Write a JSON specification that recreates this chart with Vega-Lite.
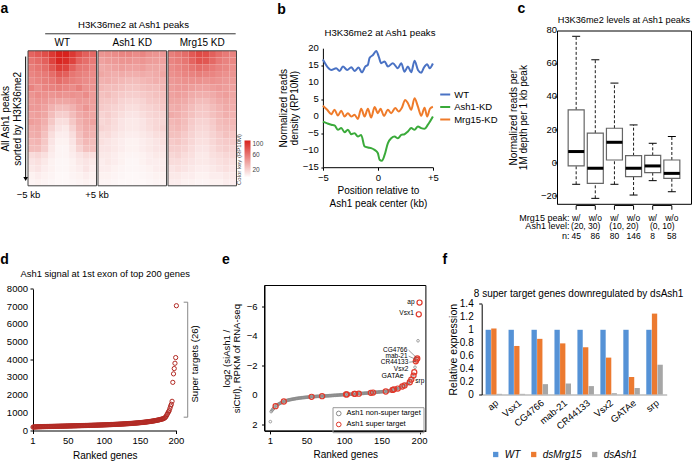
{
"$schema":"https://vega.github.io/schema/vega-lite/v6.json",
"background":"white",
"padding":{"left":0,"top":0.5,"right":0,"bottom":0},
"config":{
 "font":"Liberation Sans",
 "view":{"stroke":null},
 "axis":{"grid":false,"labelFontSize":9.5,"titleFontSize":10,"titleFontWeight":"normal","labelColor":"#000","titleColor":"#000","domainColor":"#000","tickColor":"#000","tickSize":3,"labelPadding":2,"titlePadding":4,"labelFlush":false},
 "legend":{"labelFontSize":9.5,"labelColor":"#000","titleColor":"#000"}
},
"datasets":{
"hw":[
{"c":1,"r":1,"v":70},{"c":2,"r":1,"v":75},{"c":3,"r":1,"v":80},{"c":4,"r":1,"v":90},{"c":5,"r":1,"v":100},{"c":6,"r":1,"v":100},{"c":7,"r":1,"v":90},{"c":8,"r":1,"v":80},{"c":9,"r":1,"v":72},{"c":10,"r":1,"v":68},
{"c":1,"r":2,"v":62},{"c":2,"r":2,"v":66},{"c":3,"r":2,"v":72},{"c":4,"r":2,"v":85},{"c":5,"r":2,"v":98},{"c":6,"r":2,"v":95},{"c":7,"r":2,"v":85},{"c":8,"r":2,"v":70},{"c":9,"r":2,"v":65},{"c":10,"r":2,"v":60},
{"c":1,"r":3,"v":58},{"c":2,"r":3,"v":62},{"c":3,"r":3,"v":66},{"c":4,"r":3,"v":76},{"c":5,"r":3,"v":88},{"c":6,"r":3,"v":85},{"c":7,"r":3,"v":72},{"c":8,"r":3,"v":62},{"c":9,"r":3,"v":60},{"c":10,"r":3,"v":55},
{"c":1,"r":4,"v":55},{"c":2,"r":4,"v":58},{"c":3,"r":4,"v":60},{"c":4,"r":4,"v":66},{"c":5,"r":4,"v":75},{"c":6,"r":4,"v":72},{"c":7,"r":4,"v":62},{"c":8,"r":4,"v":58},{"c":9,"r":4,"v":55},{"c":10,"r":4,"v":52},
{"c":1,"r":5,"v":52},{"c":2,"r":5,"v":55},{"c":3,"r":5,"v":58},{"c":4,"r":5,"v":60},{"c":5,"r":5,"v":66},{"c":6,"r":5,"v":62},{"c":7,"r":5,"v":58},{"c":8,"r":5,"v":55},{"c":9,"r":5,"v":52},{"c":10,"r":5,"v":50},
{"c":1,"r":6,"v":56},{"c":2,"r":6,"v":50},{"c":3,"r":6,"v":55},{"c":4,"r":6,"v":56},{"c":5,"r":6,"v":58},{"c":6,"r":6,"v":55},{"c":7,"r":6,"v":52},{"c":8,"r":6,"v":58},{"c":9,"r":6,"v":50},{"c":10,"r":6,"v":48},
{"c":1,"r":7,"v":48},{"c":2,"r":7,"v":52},{"c":3,"r":7,"v":50},{"c":4,"r":7,"v":48},{"c":5,"r":7,"v":50},{"c":6,"r":7,"v":48},{"c":7,"r":7,"v":50},{"c":8,"r":7,"v":48},{"c":9,"r":7,"v":52},{"c":10,"r":7,"v":45},
{"c":1,"r":8,"v":45},{"c":2,"r":8,"v":48},{"c":3,"r":8,"v":46},{"c":4,"r":8,"v":42},{"c":5,"r":8,"v":40},{"c":6,"r":8,"v":40},{"c":7,"r":8,"v":42},{"c":8,"r":8,"v":46},{"c":9,"r":8,"v":45},{"c":10,"r":8,"v":44},
{"c":1,"r":9,"v":46},{"c":2,"r":9,"v":46},{"c":3,"r":9,"v":42},{"c":4,"r":9,"v":35},{"c":5,"r":9,"v":30},{"c":6,"r":9,"v":30},{"c":7,"r":9,"v":35},{"c":8,"r":9,"v":42},{"c":9,"r":9,"v":48},{"c":10,"r":9,"v":42},
{"c":1,"r":10,"v":42},{"c":2,"r":10,"v":44},{"c":3,"r":10,"v":40},{"c":4,"r":10,"v":30},{"c":5,"r":10,"v":22},{"c":6,"r":10,"v":22},{"c":7,"r":10,"v":30},{"c":8,"r":10,"v":38},{"c":9,"r":10,"v":42},{"c":10,"r":10,"v":40},
{"c":1,"r":11,"v":44},{"c":2,"r":11,"v":42},{"c":3,"r":11,"v":36},{"c":4,"r":11,"v":25},{"c":5,"r":11,"v":15},{"c":6,"r":11,"v":15},{"c":7,"r":11,"v":25},{"c":8,"r":11,"v":35},{"c":9,"r":11,"v":40},{"c":10,"r":11,"v":42},
{"c":1,"r":12,"v":38},{"c":2,"r":12,"v":40},{"c":3,"r":12,"v":32},{"c":4,"r":12,"v":20},{"c":5,"r":12,"v":12},{"c":6,"r":12,"v":10},{"c":7,"r":12,"v":20},{"c":8,"r":12,"v":32},{"c":9,"r":12,"v":38},{"c":10,"r":12,"v":36},
{"c":1,"r":13,"v":36},{"c":2,"r":13,"v":38},{"c":3,"r":13,"v":28},{"c":4,"r":13,"v":15},{"c":5,"r":13,"v":8},{"c":6,"r":13,"v":8},{"c":7,"r":13,"v":15},{"c":8,"r":13,"v":28},{"c":9,"r":13,"v":36},{"c":10,"r":13,"v":34},
{"c":1,"r":14,"v":32},{"c":2,"r":14,"v":34},{"c":3,"r":14,"v":25},{"c":4,"r":14,"v":12},{"c":5,"r":14,"v":6},{"c":6,"r":14,"v":6},{"c":7,"r":14,"v":12},{"c":8,"r":14,"v":25},{"c":9,"r":14,"v":32},{"c":10,"r":14,"v":30},
{"c":1,"r":15,"v":30},{"c":2,"r":15,"v":30},{"c":3,"r":15,"v":22},{"c":4,"r":15,"v":10},{"c":5,"r":15,"v":5},{"c":6,"r":15,"v":5},{"c":7,"r":15,"v":10},{"c":8,"r":15,"v":20},{"c":9,"r":15,"v":28},{"c":10,"r":15,"v":28},
{"c":1,"r":16,"v":16},{"c":2,"r":16,"v":18},{"c":3,"r":16,"v":14},{"c":4,"r":16,"v":8},{"c":5,"r":16,"v":5},{"c":6,"r":16,"v":5},{"c":7,"r":16,"v":8},{"c":8,"r":16,"v":12},{"c":9,"r":16,"v":16},{"c":10,"r":16,"v":14},
{"c":1,"r":17,"v":12},{"c":2,"r":17,"v":14},{"c":3,"r":17,"v":10},{"c":4,"r":17,"v":6},{"c":5,"r":17,"v":4},{"c":6,"r":17,"v":4},{"c":7,"r":17,"v":6},{"c":8,"r":17,"v":10},{"c":9,"r":17,"v":12},{"c":10,"r":17,"v":10},
{"c":1,"r":18,"v":10},{"c":2,"r":18,"v":12},{"c":3,"r":18,"v":8},{"c":4,"r":18,"v":6},{"c":5,"r":18,"v":4},{"c":6,"r":18,"v":4},{"c":7,"r":18,"v":6},{"c":8,"r":18,"v":8},{"c":9,"r":18,"v":12},{"c":10,"r":18,"v":8},
{"c":1,"r":19,"v":6},{"c":2,"r":19,"v":8},{"c":3,"r":19,"v":6},{"c":4,"r":19,"v":5},{"c":5,"r":19,"v":3},{"c":6,"r":19,"v":3},{"c":7,"r":19,"v":5},{"c":8,"r":19,"v":6},{"c":9,"r":19,"v":8},{"c":10,"r":19,"v":6},
{"c":1,"r":20,"v":5},{"c":2,"r":20,"v":6},{"c":3,"r":20,"v":5},{"c":4,"r":20,"v":4},{"c":5,"r":20,"v":3},{"c":6,"r":20,"v":3},{"c":7,"r":20,"v":4},{"c":8,"r":20,"v":5},{"c":9,"r":20,"v":6},{"c":10,"r":20,"v":5}
],
"ha":[
{"c":1,"r":1,"v":48},{"c":2,"r":1,"v":50},{"c":3,"r":1,"v":52},{"c":4,"r":1,"v":55},{"c":5,"r":1,"v":55},{"c":6,"r":1,"v":52},{"c":7,"r":1,"v":55},{"c":8,"r":1,"v":50},{"c":9,"r":1,"v":48},{"c":10,"r":1,"v":46},
{"c":1,"r":2,"v":42},{"c":2,"r":2,"v":45},{"c":3,"r":2,"v":46},{"c":4,"r":2,"v":48},{"c":5,"r":2,"v":48},{"c":6,"r":2,"v":46},{"c":7,"r":2,"v":48},{"c":8,"r":2,"v":45},{"c":9,"r":2,"v":44},{"c":10,"r":2,"v":42},
{"c":1,"r":3,"v":38},{"c":2,"r":3,"v":40},{"c":3,"r":3,"v":42},{"c":4,"r":3,"v":44},{"c":5,"r":3,"v":42},{"c":6,"r":3,"v":42},{"c":7,"r":3,"v":44},{"c":8,"r":3,"v":40},{"c":9,"r":3,"v":40},{"c":10,"r":3,"v":38},
{"c":1,"r":4,"v":40},{"c":2,"r":4,"v":38},{"c":3,"r":4,"v":36},{"c":4,"r":4,"v":38},{"c":5,"r":4,"v":36},{"c":6,"r":4,"v":36},{"c":7,"r":4,"v":38},{"c":8,"r":4,"v":36},{"c":9,"r":4,"v":38},{"c":10,"r":4,"v":40},
{"c":1,"r":5,"v":35},{"c":2,"r":5,"v":36},{"c":3,"r":5,"v":34},{"c":4,"r":5,"v":32},{"c":5,"r":5,"v":30},{"c":6,"r":5,"v":30},{"c":7,"r":5,"v":32},{"c":8,"r":5,"v":34},{"c":9,"r":5,"v":36},{"c":10,"r":5,"v":34},
{"c":1,"r":6,"v":32},{"c":2,"r":6,"v":30},{"c":3,"r":6,"v":30},{"c":4,"r":6,"v":28},{"c":5,"r":6,"v":26},{"c":6,"r":6,"v":26},{"c":7,"r":6,"v":28},{"c":8,"r":6,"v":30},{"c":9,"r":6,"v":30},{"c":10,"r":6,"v":32},
{"c":1,"r":7,"v":28},{"c":2,"r":7,"v":30},{"c":3,"r":7,"v":26},{"c":4,"r":7,"v":24},{"c":5,"r":7,"v":22},{"c":6,"r":7,"v":22},{"c":7,"r":7,"v":24},{"c":8,"r":7,"v":26},{"c":9,"r":7,"v":28},{"c":10,"r":7,"v":28},
{"c":1,"r":8,"v":26},{"c":2,"r":8,"v":25},{"c":3,"r":8,"v":24},{"c":4,"r":8,"v":20},{"c":5,"r":8,"v":18},{"c":6,"r":8,"v":18},{"c":7,"r":8,"v":20},{"c":8,"r":8,"v":24},{"c":9,"r":8,"v":25},{"c":10,"r":8,"v":26},
{"c":1,"r":9,"v":24},{"c":2,"r":9,"v":22},{"c":3,"r":9,"v":20},{"c":4,"r":9,"v":18},{"c":5,"r":9,"v":15},{"c":6,"r":9,"v":15},{"c":7,"r":9,"v":18},{"c":8,"r":9,"v":20},{"c":9,"r":9,"v":22},{"c":10,"r":9,"v":24},
{"c":1,"r":10,"v":20},{"c":2,"r":10,"v":22},{"c":3,"r":10,"v":18},{"c":4,"r":10,"v":15},{"c":5,"r":10,"v":12},{"c":6,"r":10,"v":12},{"c":7,"r":10,"v":15},{"c":8,"r":10,"v":18},{"c":9,"r":10,"v":20},{"c":10,"r":10,"v":20},
{"c":1,"r":11,"v":18},{"c":2,"r":11,"v":20},{"c":3,"r":11,"v":16},{"c":4,"r":11,"v":12},{"c":5,"r":11,"v":10},{"c":6,"r":11,"v":10},{"c":7,"r":11,"v":12},{"c":8,"r":11,"v":16},{"c":9,"r":11,"v":18},{"c":10,"r":11,"v":18},
{"c":1,"r":12,"v":20},{"c":2,"r":12,"v":18},{"c":3,"r":12,"v":15},{"c":4,"r":12,"v":12},{"c":5,"r":12,"v":10},{"c":6,"r":12,"v":10},{"c":7,"r":12,"v":12},{"c":8,"r":12,"v":15},{"c":9,"r":12,"v":18},{"c":10,"r":12,"v":20},
{"c":1,"r":13,"v":15},{"c":2,"r":13,"v":16},{"c":3,"r":13,"v":12},{"c":4,"r":13,"v":10},{"c":5,"r":13,"v":8},{"c":6,"r":13,"v":8},{"c":7,"r":13,"v":10},{"c":8,"r":13,"v":12},{"c":9,"r":13,"v":15},{"c":10,"r":13,"v":16},
{"c":1,"r":14,"v":14},{"c":2,"r":14,"v":12},{"c":3,"r":14,"v":10},{"c":4,"r":14,"v":8},{"c":5,"r":14,"v":6},{"c":6,"r":14,"v":6},{"c":7,"r":14,"v":8},{"c":8,"r":14,"v":10},{"c":9,"r":14,"v":12},{"c":10,"r":14,"v":14},
{"c":1,"r":15,"v":12},{"c":2,"r":15,"v":12},{"c":3,"r":15,"v":10},{"c":4,"r":15,"v":8},{"c":5,"r":15,"v":6},{"c":6,"r":15,"v":6},{"c":7,"r":15,"v":8},{"c":8,"r":15,"v":10},{"c":9,"r":15,"v":12},{"c":10,"r":15,"v":12},
{"c":1,"r":16,"v":10},{"c":2,"r":16,"v":10},{"c":3,"r":16,"v":8},{"c":4,"r":16,"v":6},{"c":5,"r":16,"v":5},{"c":6,"r":16,"v":5},{"c":7,"r":16,"v":6},{"c":8,"r":16,"v":8},{"c":9,"r":16,"v":10},{"c":10,"r":16,"v":10},
{"c":1,"r":17,"v":8},{"c":2,"r":17,"v":10},{"c":3,"r":17,"v":8},{"c":4,"r":17,"v":6},{"c":5,"r":17,"v":4},{"c":6,"r":17,"v":4},{"c":7,"r":17,"v":6},{"c":8,"r":17,"v":8},{"c":9,"r":17,"v":8},{"c":10,"r":17,"v":8},
{"c":1,"r":18,"v":8},{"c":2,"r":18,"v":8},{"c":3,"r":18,"v":6},{"c":4,"r":18,"v":5},{"c":5,"r":18,"v":4},{"c":6,"r":18,"v":4},{"c":7,"r":18,"v":5},{"c":8,"r":18,"v":6},{"c":9,"r":18,"v":8},{"c":10,"r":18,"v":8},
{"c":1,"r":19,"v":6},{"c":2,"r":19,"v":6},{"c":3,"r":19,"v":5},{"c":4,"r":19,"v":4},{"c":5,"r":19,"v":3},{"c":6,"r":19,"v":3},{"c":7,"r":19,"v":4},{"c":8,"r":19,"v":5},{"c":9,"r":19,"v":6},{"c":10,"r":19,"v":6},
{"c":1,"r":20,"v":5},{"c":2,"r":20,"v":5},{"c":3,"r":20,"v":4},{"c":4,"r":20,"v":3},{"c":5,"r":20,"v":3},{"c":6,"r":20,"v":3},{"c":7,"r":20,"v":3},{"c":8,"r":20,"v":4},{"c":9,"r":20,"v":5},{"c":10,"r":20,"v":5}
],
"hm":[
{"c":1,"r":1,"v":58},{"c":2,"r":1,"v":62},{"c":3,"r":1,"v":66},{"c":4,"r":1,"v":75},{"c":5,"r":1,"v":82},{"c":6,"r":1,"v":80},{"c":7,"r":1,"v":72},{"c":8,"r":1,"v":65},{"c":9,"r":1,"v":60},{"c":10,"r":1,"v":56},
{"c":1,"r":2,"v":55},{"c":2,"r":2,"v":58},{"c":3,"r":2,"v":62},{"c":4,"r":2,"v":70},{"c":5,"r":2,"v":78},{"c":6,"r":2,"v":76},{"c":7,"r":2,"v":68},{"c":8,"r":2,"v":60},{"c":9,"r":2,"v":56},{"c":10,"r":2,"v":54},
{"c":1,"r":3,"v":52},{"c":2,"r":3,"v":55},{"c":3,"r":3,"v":58},{"c":4,"r":3,"v":62},{"c":5,"r":3,"v":66},{"c":6,"r":3,"v":64},{"c":7,"r":3,"v":60},{"c":8,"r":3,"v":56},{"c":9,"r":3,"v":54},{"c":10,"r":3,"v":50},
{"c":1,"r":4,"v":50},{"c":2,"r":4,"v":52},{"c":3,"r":4,"v":55},{"c":4,"r":4,"v":56},{"c":5,"r":4,"v":58},{"c":6,"r":4,"v":56},{"c":7,"r":4,"v":55},{"c":8,"r":4,"v":52},{"c":9,"r":4,"v":50},{"c":10,"r":4,"v":48},
{"c":1,"r":5,"v":46},{"c":2,"r":5,"v":48},{"c":3,"r":5,"v":50},{"c":4,"r":5,"v":50},{"c":5,"r":5,"v":50},{"c":6,"r":5,"v":48},{"c":7,"r":5,"v":50},{"c":8,"r":5,"v":48},{"c":9,"r":5,"v":46},{"c":10,"r":5,"v":45},
{"c":1,"r":6,"v":44},{"c":2,"r":6,"v":46},{"c":3,"r":6,"v":46},{"c":4,"r":6,"v":44},{"c":5,"r":6,"v":42},{"c":6,"r":6,"v":42},{"c":7,"r":6,"v":44},{"c":8,"r":6,"v":46},{"c":9,"r":6,"v":44},{"c":10,"r":6,"v":42},
{"c":1,"r":7,"v":42},{"c":2,"r":7,"v":44},{"c":3,"r":7,"v":42},{"c":4,"r":7,"v":38},{"c":5,"r":7,"v":36},{"c":6,"r":7,"v":36},{"c":7,"r":7,"v":38},{"c":8,"r":7,"v":42},{"c":9,"r":7,"v":44},{"c":10,"r":7,"v":40},
{"c":1,"r":8,"v":40},{"c":2,"r":8,"v":40},{"c":3,"r":8,"v":38},{"c":4,"r":8,"v":34},{"c":5,"r":8,"v":30},{"c":6,"r":8,"v":30},{"c":7,"r":8,"v":34},{"c":8,"r":8,"v":38},{"c":9,"r":8,"v":40},{"c":10,"r":8,"v":38},
{"c":1,"r":9,"v":36},{"c":2,"r":9,"v":38},{"c":3,"r":9,"v":34},{"c":4,"r":9,"v":30},{"c":5,"r":9,"v":26},{"c":6,"r":9,"v":26},{"c":7,"r":9,"v":30},{"c":8,"r":9,"v":34},{"c":9,"r":9,"v":38},{"c":10,"r":9,"v":36},
{"c":1,"r":10,"v":38},{"c":2,"r":10,"v":36},{"c":3,"r":10,"v":32},{"c":4,"r":10,"v":28},{"c":5,"r":10,"v":24},{"c":6,"r":10,"v":24},{"c":7,"r":10,"v":28},{"c":8,"r":10,"v":32},{"c":9,"r":10,"v":36},{"c":10,"r":10,"v":34},
{"c":1,"r":11,"v":32},{"c":2,"r":11,"v":34},{"c":3,"r":11,"v":30},{"c":4,"r":11,"v":24},{"c":5,"r":11,"v":20},{"c":6,"r":11,"v":20},{"c":7,"r":11,"v":24},{"c":8,"r":11,"v":30},{"c":9,"r":11,"v":32},{"c":10,"r":11,"v":32},
{"c":1,"r":12,"v":30},{"c":2,"r":12,"v":32},{"c":3,"r":12,"v":28},{"c":4,"r":12,"v":22},{"c":5,"r":12,"v":18},{"c":6,"r":12,"v":18},{"c":7,"r":12,"v":22},{"c":8,"r":12,"v":28},{"c":9,"r":12,"v":30},{"c":10,"r":12,"v":30},
{"c":1,"r":13,"v":28},{"c":2,"r":13,"v":28},{"c":3,"r":13,"v":24},{"c":4,"r":13,"v":20},{"c":5,"r":13,"v":16},{"c":6,"r":13,"v":16},{"c":7,"r":13,"v":20},{"c":8,"r":13,"v":24},{"c":9,"r":13,"v":28},{"c":10,"r":13,"v":26},
{"c":1,"r":14,"v":24},{"c":2,"r":14,"v":26},{"c":3,"r":14,"v":22},{"c":4,"r":14,"v":18},{"c":5,"r":14,"v":14},{"c":6,"r":14,"v":14},{"c":7,"r":14,"v":18},{"c":8,"r":14,"v":22},{"c":9,"r":14,"v":24},{"c":10,"r":14,"v":24},
{"c":1,"r":15,"v":22},{"c":2,"r":15,"v":22},{"c":3,"r":15,"v":20},{"c":4,"r":15,"v":16},{"c":5,"r":15,"v":12},{"c":6,"r":15,"v":12},{"c":7,"r":15,"v":16},{"c":8,"r":15,"v":20},{"c":9,"r":15,"v":22},{"c":10,"r":15,"v":20},
{"c":1,"r":16,"v":18},{"c":2,"r":16,"v":20},{"c":3,"r":16,"v":16},{"c":4,"r":16,"v":14},{"c":5,"r":16,"v":10},{"c":6,"r":16,"v":10},{"c":7,"r":16,"v":14},{"c":8,"r":16,"v":16},{"c":9,"r":16,"v":18},{"c":10,"r":16,"v":18},
{"c":1,"r":17,"v":16},{"c":2,"r":17,"v":16},{"c":3,"r":17,"v":14},{"c":4,"r":17,"v":12},{"c":5,"r":17,"v":10},{"c":6,"r":17,"v":10},{"c":7,"r":17,"v":12},{"c":8,"r":17,"v":14},{"c":9,"r":17,"v":16},{"c":10,"r":17,"v":14},
{"c":1,"r":18,"v":12},{"c":2,"r":18,"v":14},{"c":3,"r":18,"v":12},{"c":4,"r":18,"v":10},{"c":5,"r":18,"v":8},{"c":6,"r":18,"v":8},{"c":7,"r":18,"v":10},{"c":8,"r":18,"v":12},{"c":9,"r":18,"v":14},{"c":10,"r":18,"v":12},
{"c":1,"r":19,"v":10},{"c":2,"r":19,"v":10},{"c":3,"r":19,"v":8},{"c":4,"r":19,"v":8},{"c":5,"r":19,"v":6},{"c":6,"r":19,"v":6},{"c":7,"r":19,"v":8},{"c":8,"r":19,"v":8},{"c":9,"r":19,"v":10},{"c":10,"r":19,"v":10},
{"c":1,"r":20,"v":8},{"c":2,"r":20,"v":8},{"c":3,"r":20,"v":6},{"c":4,"r":20,"v":6},{"c":5,"r":20,"v":5},{"c":6,"r":20,"v":5},{"c":7,"r":20,"v":6},{"c":8,"r":20,"v":6},{"c":9,"r":20,"v":8},{"c":10,"r":20,"v":8}
],
"bl":[
{"g":"WT","x":-5,"y":16.7},{"g":"WT","x":-4.48,"y":14.1},{"g":"WT","x":-4.24,"y":13.6},{"g":"WT","x":-3.79,"y":14.1},{"g":"WT","x":-3.48,"y":13.3},{"g":"WT","x":-3.18,"y":14.6},{"g":"WT","x":-2.79,"y":13.6},{"g":"WT","x":-2.42,"y":14.4},{"g":"WT","x":-2.12,"y":13.3},{"g":"WT","x":-1.76,"y":14.3},{"g":"WT","x":-1.45,"y":12.9},{"g":"WT","x":-1.15,"y":14.6},{"g":"WT","x":-0.91,"y":15.1},{"g":"WT","x":-0.76,"y":17.1},{"g":"WT","x":-0.45,"y":18.0},{"g":"WT","x":-0.15,"y":19.2},{"g":"WT","x":0.06,"y":17.7},{"g":"WT","x":0.3,"y":15.6},{"g":"WT","x":0.61,"y":16.1},{"g":"WT","x":0.91,"y":14.6},{"g":"WT","x":1.36,"y":15.6},{"g":"WT","x":1.82,"y":14.1},{"g":"WT","x":2.12,"y":15.6},{"g":"WT","x":2.42,"y":13.1},{"g":"WT","x":2.73,"y":14.6},{"g":"WT","x":3.03,"y":12.9},{"g":"WT","x":3.33,"y":16.3},{"g":"WT","x":3.64,"y":13.6},{"g":"WT","x":3.94,"y":12.8},{"g":"WT","x":4.18,"y":14.3},{"g":"WT","x":4.48,"y":15.3},{"g":"WT","x":4.7,"y":14.1},{"g":"WT","x":5,"y":15.5},
{"g":"Mrg15-KD","x":-5,"y":3.1},{"g":"Mrg15-KD","x":-4.61,"y":1.9},{"g":"Mrg15-KD","x":-4.24,"y":0.6},{"g":"Mrg15-KD","x":-3.94,"y":1.9},{"g":"Mrg15-KD","x":-3.64,"y":0.2},{"g":"Mrg15-KD","x":-3.33,"y":1.6},{"g":"Mrg15-KD","x":-3.03,"y":-0.1},{"g":"Mrg15-KD","x":-2.73,"y":0.9},{"g":"Mrg15-KD","x":-2.42,"y":-0.1},{"g":"Mrg15-KD","x":-2.12,"y":0.4},{"g":"Mrg15-KD","x":-1.82,"y":-0.8},{"g":"Mrg15-KD","x":-1.52,"y":2.2},{"g":"Mrg15-KD","x":-1.21,"y":-0.1},{"g":"Mrg15-KD","x":-0.91,"y":2.2},{"g":"Mrg15-KD","x":-0.61,"y":-0.4},{"g":"Mrg15-KD","x":-0.3,"y":2.7},{"g":"Mrg15-KD","x":0,"y":0.9},{"g":"Mrg15-KD","x":0.24,"y":2.2},{"g":"Mrg15-KD","x":0.55,"y":0.1},{"g":"Mrg15-KD","x":0.91,"y":1.9},{"g":"Mrg15-KD","x":1.21,"y":0.9},{"g":"Mrg15-KD","x":1.58,"y":2.4},{"g":"Mrg15-KD","x":1.88,"y":1.4},{"g":"Mrg15-KD","x":2.18,"y":2.5},{"g":"Mrg15-KD","x":2.48,"y":4.8},{"g":"Mrg15-KD","x":2.73,"y":3.8},{"g":"Mrg15-KD","x":3.03,"y":1.9},{"g":"Mrg15-KD","x":3.33,"y":5.3},{"g":"Mrg15-KD","x":3.64,"y":2.8},{"g":"Mrg15-KD","x":3.94,"y":0.1},{"g":"Mrg15-KD","x":4.24,"y":2.5},{"g":"Mrg15-KD","x":4.48,"y":-0.1},{"g":"Mrg15-KD","x":4.73,"y":2.2},{"g":"Mrg15-KD","x":5,"y":2.8},
{"g":"Ash1-KD","x":-5,"y":-1.6},{"g":"Ash1-KD","x":-4.61,"y":-2.1},{"g":"Ash1-KD","x":-4.24,"y":-2.5},{"g":"Ash1-KD","x":-3.94,"y":-2.7},{"g":"Ash1-KD","x":-3.64,"y":-4.0},{"g":"Ash1-KD","x":-3.33,"y":-3.5},{"g":"Ash1-KD","x":-3.03,"y":-4.7},{"g":"Ash1-KD","x":-2.73,"y":-4.0},{"g":"Ash1-KD","x":-2.42,"y":-5.3},{"g":"Ash1-KD","x":-2.12,"y":-5.0},{"g":"Ash1-KD","x":-1.82,"y":-6.0},{"g":"Ash1-KD","x":-1.52,"y":-5.5},{"g":"Ash1-KD","x":-1.21,"y":-8.9},{"g":"Ash1-KD","x":-0.91,"y":-9.2},{"g":"Ash1-KD","x":-0.61,"y":-9.4},{"g":"Ash1-KD","x":-0.3,"y":-9.9},{"g":"Ash1-KD","x":0,"y":-10.9},{"g":"Ash1-KD","x":0.15,"y":-12.8},{"g":"Ash1-KD","x":0.36,"y":-13.1},{"g":"Ash1-KD","x":0.61,"y":-11.4},{"g":"Ash1-KD","x":0.91,"y":-7.9},{"g":"Ash1-KD","x":1.21,"y":-6.5},{"g":"Ash1-KD","x":1.52,"y":-6.0},{"g":"Ash1-KD","x":1.82,"y":-6.5},{"g":"Ash1-KD","x":2.12,"y":-5.5},{"g":"Ash1-KD","x":2.42,"y":-5.3},{"g":"Ash1-KD","x":2.73,"y":-4.5},{"g":"Ash1-KD","x":3.03,"y":-3.5},{"g":"Ash1-KD","x":3.33,"y":-4.0},{"g":"Ash1-KD","x":3.64,"y":-3.0},{"g":"Ash1-KD","x":3.94,"y":-3.5},{"g":"Ash1-KD","x":4.24,"y":-3.7},{"g":"Ash1-KD","x":4.55,"y":-2.5},{"g":"Ash1-KD","x":5,"y":-0.1}
],
"byl":[{"y":-15,"l":"−15"},{"y":-10,"l":"−10"},{"y":-5,"l":"−5"},{"y":0,"l":"0"},{"y":5,"l":"5"},{"y":10,"l":"10"},{"y":15,"l":"15"},{"y":20,"l":"20"}],
"cyl":[{"y":-20,"l":"−20"},{"y":0,"l":"0"},{"y":20,"l":"20"},{"y":40,"l":"40"},{"y":60,"l":"60"},{"y":80,"l":"80"}],
"dyl":[{"y":0,"l":"0"},{"y":1000,"l":"1000"},{"y":2000,"l":"2000"},{"y":3000,"l":"3000"},{"y":4000,"l":"4000"},{"y":5000,"l":"5000"},{"y":6000,"l":"6000"},{"y":7000,"l":"7000"},{"y":8000,"l":"8000"}],
"rxl":[{"x":1,"l":"1"},{"x":50,"l":"50"},{"x":100,"l":"100"},{"x":150,"l":"150"},{"x":200,"l":"200"}],
"eyl":[{"y":-6,"l":"−6"},{"y":-4,"l":"−4"},{"y":-2,"l":"−2"},{"y":0,"l":"0"},{"y":2,"l":"2"}],
"fyl":[{"y":0,"l":"0"},{"y":0.2,"l":"0.2"},{"y":0.4,"l":"0.4"},{"y":0.6,"l":"0.6"},{"y":0.8,"l":"0.8"},{"y":1,"l":"1"},{"y":1.2,"l":"1.2"},{"y":1.4,"l":"1.4"}],
"cb":[
{"p":1,"lo":-13.1,"q1":-2,"md":6.7,"q3":31.9,"hi":76.4,"m":"w/","n":"45"},
{"p":2,"lo":-21.6,"q1":-12.5,"md":-3.4,"q3":17.8,"hi":62.2,"m":"w/o","n":"86"},
{"p":3,"lo":-13.1,"q1":1.6,"md":12.3,"q3":20.8,"hi":48.1,"m":"w/","n":"80"},
{"p":4,"lo":-19.6,"q1":-8.5,"md":-3.4,"q3":4.2,"hi":22.8,"m":"w/o","n":"146"},
{"p":5,"lo":-10.9,"q1":-6.1,"md":-2,"q3":4.4,"hi":11.7,"m":"w/","n":"8"},
{"p":6,"lo":-17.6,"q1":-9.5,"md":-6.5,"q3":1.6,"hi":15.8,"m":"w/o","n":"58"}
],
"cl":[{"p":1.5,"l":"(20, 30)"},{"p":3.5,"l":"(10, 20)"},{"p":5.5,"l":"(0, 10)"}],
"cp":[{"a":1,"b":2},{"a":3,"b":4},{"a":5,"b":6}],
"dd":[
{"k":1,"v":190},{"k":2,"v":196},{"k":3,"v":200},{"k":4,"v":203},{"k":5,"v":205},{"k":6,"v":207},{"k":7,"v":209},{"k":8,"v":210},{"k":9,"v":212},{"k":10,"v":213},
{"k":11,"v":214},{"k":12,"v":215},{"k":13,"v":216},{"k":14,"v":218},{"k":15,"v":219},{"k":16,"v":220},{"k":17,"v":221},{"k":18,"v":222},{"k":19,"v":223},{"k":20,"v":224},
{"k":21,"v":225},{"k":22,"v":226},{"k":23,"v":227},{"k":24,"v":228},{"k":25,"v":229},{"k":26,"v":230},{"k":27,"v":231},{"k":28,"v":232},{"k":29,"v":233},{"k":30,"v":234},
{"k":31,"v":235},{"k":32,"v":236},{"k":33,"v":237},{"k":34,"v":238},{"k":35,"v":239},{"k":36,"v":240},{"k":37,"v":241},{"k":38,"v":242},{"k":39,"v":243},{"k":40,"v":244},
{"k":41,"v":245},{"k":42,"v":246},{"k":43,"v":247},{"k":44,"v":248},{"k":45,"v":249},{"k":46,"v":250},{"k":47,"v":251},{"k":48,"v":252},{"k":49,"v":253},{"k":50,"v":255},
{"k":51,"v":256},{"k":52,"v":257},{"k":53,"v":258},{"k":54,"v":259},{"k":55,"v":260},{"k":56,"v":262},{"k":57,"v":263},{"k":58,"v":264},{"k":59,"v":265},{"k":60,"v":266},
{"k":61,"v":267},{"k":62,"v":268},{"k":63,"v":270},{"k":64,"v":271},{"k":65,"v":272},{"k":66,"v":273},{"k":67,"v":274},{"k":68,"v":276},{"k":69,"v":277},{"k":70,"v":278},
{"k":71,"v":279},{"k":72,"v":280},{"k":73,"v":282},{"k":74,"v":283},{"k":75,"v":284},{"k":76,"v":285},{"k":77,"v":287},{"k":78,"v":288},{"k":79,"v":289},{"k":80,"v":290},
{"k":81,"v":292},{"k":82,"v":293},{"k":83,"v":294},{"k":84,"v":296},{"k":85,"v":297},{"k":86,"v":298},{"k":87,"v":300},{"k":88,"v":301},{"k":89,"v":302},{"k":90,"v":304},
{"k":91,"v":305},{"k":92,"v":307},{"k":93,"v":308},{"k":94,"v":310},{"k":95,"v":311},{"k":96,"v":313},{"k":97,"v":314},{"k":98,"v":316},{"k":99,"v":317},{"k":100,"v":319},
{"k":101,"v":320},{"k":102,"v":322},{"k":103,"v":324},{"k":104,"v":325},{"k":105,"v":327},{"k":106,"v":329},{"k":107,"v":330},{"k":108,"v":332},{"k":109,"v":334},{"k":110,"v":336},
{"k":111,"v":338},{"k":112,"v":340},{"k":113,"v":342},{"k":114,"v":344},{"k":115,"v":346},{"k":116,"v":348},{"k":117,"v":350},{"k":118,"v":352},{"k":119,"v":354},{"k":120,"v":356},
{"k":121,"v":358},{"k":122,"v":360},{"k":123,"v":362},{"k":124,"v":365},{"k":125,"v":367},{"k":126,"v":369},{"k":127,"v":372},{"k":128,"v":374},{"k":129,"v":377},{"k":130,"v":379},
{"k":131,"v":382},{"k":132,"v":384},{"k":133,"v":387},{"k":134,"v":390},{"k":135,"v":393},{"k":136,"v":396},{"k":137,"v":399},{"k":138,"v":402},{"k":139,"v":405},{"k":140,"v":408},
{"k":141,"v":411},{"k":142,"v":414},{"k":143,"v":418},{"k":144,"v":421},{"k":145,"v":425},{"k":146,"v":428},{"k":147,"v":432},{"k":148,"v":436},{"k":149,"v":440},{"k":150,"v":444},
{"k":151,"v":448},{"k":152,"v":452},{"k":153,"v":456},{"k":154,"v":461},{"k":155,"v":465},{"k":156,"v":470},{"k":157,"v":475},{"k":158,"v":480},{"k":159,"v":485},{"k":160,"v":490},
{"k":161,"v":496},{"k":162,"v":501},{"k":163,"v":507},{"k":164,"v":513},{"k":165,"v":519},{"k":166,"v":525},{"k":167,"v":532},{"k":168,"v":539},{"k":169,"v":546},{"k":170,"v":553},
{"k":171,"v":561},{"k":172,"v":569},{"k":173,"v":577},{"k":174,"v":586},{"k":175,"v":595},{"k":176,"v":604},{"k":177,"v":614},{"k":178,"v":624},{"k":179,"v":635},{"k":180,"v":646},
{"k":181,"v":658},{"k":182,"v":670},{"k":183,"v":690},{"k":184,"v":720},{"k":185,"v":760},{"k":186,"v":820},{"k":187,"v":900},{"k":188,"v":980},{"k":189,"v":1050},{"k":190,"v":1120},
{"k":191,"v":1250},{"k":192,"v":1380},{"k":193,"v":1480},{"k":194,"v":1650},{"k":195,"v":2720},{"k":196,"v":3200},{"k":197,"v":3500},{"k":198,"v":3800},{"k":199,"v":4120},{"k":200,"v":7050}
],
"ee":[
{"k":1,"v":1.8,"t":"n"},{"k":2,"v":1.12,"t":"n"},{"k":3,"v":1.05,"t":"n"},{"k":4,"v":0.98,"t":"n"},{"k":5,"v":0.92,"t":"n"},{"k":6,"v":0.86,"t":"n"},{"k":7,"v":0.8,"t":"n"},{"k":8,"v":0.75,"t":"s"},{"k":9,"v":0.71,"t":"n"},{"k":10,"v":0.67,"t":"n"},
{"k":11,"v":0.64,"t":"n"},{"k":12,"v":0.61,"t":"n"},{"k":13,"v":0.58,"t":"n"},{"k":14,"v":0.55,"t":"n"},{"k":15,"v":0.53,"t":"n"},{"k":16,"v":0.5,"t":"n"},{"k":17,"v":0.48,"t":"n"},{"k":18,"v":0.45,"t":"n"},{"k":19,"v":0.43,"t":"s"},{"k":20,"v":0.41,"t":"n"},
{"k":21,"v":0.39,"t":"n"},{"k":22,"v":0.38,"t":"n"},{"k":23,"v":0.36,"t":"n"},{"k":24,"v":0.35,"t":"n"},{"k":25,"v":0.33,"t":"n"},{"k":26,"v":0.32,"t":"n"},{"k":27,"v":0.31,"t":"n"},{"k":28,"v":0.3,"t":"n"},{"k":29,"v":0.29,"t":"n"},{"k":30,"v":0.28,"t":"n"},
{"k":31,"v":0.27,"t":"n"},{"k":32,"v":0.26,"t":"n"},{"k":33,"v":0.25,"t":"n"},{"k":34,"v":0.24,"t":"n"},{"k":35,"v":0.23,"t":"n"},{"k":36,"v":0.22,"t":"n"},{"k":37,"v":0.22,"t":"n"},{"k":38,"v":0.21,"t":"n"},{"k":39,"v":0.2,"t":"n"},{"k":40,"v":0.19,"t":"n"},
{"k":41,"v":0.19,"t":"n"},{"k":42,"v":0.18,"t":"n"},{"k":43,"v":0.17,"t":"n"},{"k":44,"v":0.17,"t":"n"},{"k":45,"v":0.16,"t":"n"},{"k":46,"v":0.16,"t":"n"},{"k":47,"v":0.15,"t":"n"},{"k":48,"v":0.15,"t":"n"},{"k":49,"v":0.14,"t":"n"},{"k":50,"v":0.14,"t":"n"},
{"k":51,"v":0.13,"t":"n"},{"k":52,"v":0.13,"t":"n"},{"k":53,"v":0.12,"t":"n"},{"k":54,"v":0.12,"t":"n"},{"k":55,"v":0.11,"t":"n"},{"k":56,"v":0.11,"t":"s"},{"k":57,"v":0.1,"t":"n"},{"k":58,"v":0.1,"t":"n"},{"k":59,"v":0.1,"t":"n"},{"k":60,"v":0.09,"t":"n"},
{"k":61,"v":0.09,"t":"n"},{"k":62,"v":0.09,"t":"n"},{"k":63,"v":0.08,"t":"n"},{"k":64,"v":0.08,"t":"n"},{"k":65,"v":0.08,"t":"n"},{"k":66,"v":0.08,"t":"n"},{"k":67,"v":0.07,"t":"n"},{"k":68,"v":0.07,"t":"n"},{"k":69,"v":0.07,"t":"n"},{"k":70,"v":0.07,"t":"s"},
{"k":71,"v":0.06,"t":"n"},{"k":72,"v":0.06,"t":"n"},{"k":73,"v":0.06,"t":"n"},{"k":74,"v":0.05,"t":"n"},{"k":75,"v":0.05,"t":"n"},{"k":76,"v":0.05,"t":"n"},{"k":77,"v":0.04,"t":"n"},{"k":78,"v":0.04,"t":"n"},{"k":79,"v":0.04,"t":"n"},{"k":80,"v":0.03,"t":"n"},
{"k":81,"v":0.03,"t":"n"},{"k":82,"v":0.03,"t":"n"},{"k":83,"v":0.02,"t":"n"},{"k":84,"v":0.02,"t":"n"},{"k":85,"v":0.02,"t":"n"},{"k":86,"v":0.01,"t":"n"},{"k":87,"v":0.01,"t":"n"},{"k":88,"v":0.01,"t":"n"},{"k":89,"v":0,"t":"n"},{"k":90,"v":0,"t":"n"},
{"k":91,"v":0,"t":"n"},{"k":92,"v":-0.01,"t":"n"},{"k":93,"v":-0.01,"t":"n"},{"k":94,"v":-0.02,"t":"n"},{"k":95,"v":-0.02,"t":"n"},{"k":96,"v":-0.02,"t":"n"},{"k":97,"v":-0.03,"t":"n"},{"k":98,"v":-0.03,"t":"n"},{"k":99,"v":-0.04,"t":"n"},{"k":100,"v":-0.04,"t":"n"},
{"k":101,"v":-0.04,"t":"n"},{"k":102,"v":-0.05,"t":"s"},{"k":103,"v":-0.05,"t":"s"},{"k":104,"v":-0.05,"t":"n"},{"k":105,"v":-0.06,"t":"n"},{"k":106,"v":-0.06,"t":"n"},{"k":107,"v":-0.06,"t":"n"},{"k":108,"v":-0.07,"t":"n"},{"k":109,"v":-0.07,"t":"n"},{"k":110,"v":-0.07,"t":"n"},
{"k":111,"v":-0.08,"t":"n"},{"k":112,"v":-0.08,"t":"n"},{"k":113,"v":-0.09,"t":"s"},{"k":114,"v":-0.09,"t":"s"},{"k":115,"v":-0.09,"t":"n"},{"k":116,"v":-0.09,"t":"n"},{"k":117,"v":-0.1,"t":"n"},{"k":118,"v":-0.1,"t":"n"},{"k":119,"v":-0.1,"t":"s"},{"k":120,"v":-0.11,"t":"n"},
{"k":121,"v":-0.11,"t":"n"},{"k":122,"v":-0.11,"t":"n"},{"k":123,"v":-0.12,"t":"n"},{"k":124,"v":-0.12,"t":"n"},{"k":125,"v":-0.12,"t":"n"},{"k":126,"v":-0.13,"t":"n"},{"k":127,"v":-0.13,"t":"n"},{"k":128,"v":-0.14,"t":"n"},{"k":129,"v":-0.14,"t":"n"},{"k":130,"v":-0.14,"t":"n"},
{"k":131,"v":-0.15,"t":"n"},{"k":132,"v":-0.15,"t":"n"},{"k":133,"v":-0.15,"t":"n"},{"k":134,"v":-0.16,"t":"n"},{"k":135,"v":-0.16,"t":"s"},{"k":136,"v":-0.17,"t":"n"},{"k":137,"v":-0.17,"t":"n"},{"k":138,"v":-0.18,"t":"s"},{"k":139,"v":-0.18,"t":"n"},{"k":140,"v":-0.19,"t":"n"},
{"k":141,"v":-0.19,"t":"n"},{"k":142,"v":-0.2,"t":"n"},{"k":143,"v":-0.2,"t":"n"},{"k":144,"v":-0.21,"t":"n"},{"k":145,"v":-0.21,"t":"n"},{"k":146,"v":-0.22,"t":"n"},{"k":147,"v":-0.22,"t":"n"},{"k":148,"v":-0.23,"t":"n"},{"k":149,"v":-0.23,"t":"n"},{"k":150,"v":-0.24,"t":"n"},
{"k":151,"v":-0.24,"t":"n"},{"k":152,"v":-0.25,"t":"n"},{"k":153,"v":-0.25,"t":"n"},{"k":154,"v":-0.25,"t":"n"},{"k":155,"v":-0.25,"t":"s"},{"k":156,"v":-0.26,"t":"n"},{"k":157,"v":-0.27,"t":"n"},{"k":158,"v":-0.28,"t":"n"},{"k":159,"v":-0.29,"t":"n"},{"k":160,"v":-0.3,"t":"n"},
{"k":161,"v":-0.31,"t":"n"},{"k":162,"v":-0.33,"t":"n"},{"k":163,"v":-0.34,"t":"n"},{"k":164,"v":-0.36,"t":"s"},{"k":165,"v":-0.38,"t":"n"},{"k":166,"v":-0.4,"t":"s"},{"k":167,"v":-0.41,"t":"n"},{"k":168,"v":-0.42,"t":"n"},{"k":169,"v":-0.43,"t":"n"},{"k":170,"v":-0.44,"t":"n"},
{"k":171,"v":-0.45,"t":"s"},{"k":172,"v":-0.47,"t":"n"},{"k":173,"v":-0.5,"t":"n"},{"k":174,"v":-0.52,"t":"n"},{"k":175,"v":-0.55,"t":"n"},{"k":176,"v":-0.57,"t":"n"},{"k":177,"v":-0.59,"t":"s"},{"k":178,"v":-0.61,"t":"n"},{"k":179,"v":-0.63,"t":"n"},{"k":180,"v":-0.66,"t":"s"},
{"k":181,"v":-0.69,"t":"n"},{"k":182,"v":-0.72,"t":"n"},{"k":183,"v":-0.75,"t":"n"},{"k":184,"v":-0.78,"t":"n"},{"k":185,"v":-0.82,"t":"n"},{"k":186,"v":-0.85,"t":"n"},{"k":187,"v":-0.88,"t":"s"},{"k":188,"v":-0.95,"t":"n"},{"k":189,"v":-1.06,"t":"s"},{"k":190,"v":-1.15,"t":"n"},
{"k":191,"v":-1.25,"t":"n"},{"k":192,"v":-1.33,"t":"s"},{"k":193,"v":-1.56,"t":"s"},{"k":194,"v":-1.9,"t":"n"},{"k":195,"v":-2.3,"t":"s"},{"k":196,"v":-2.42,"t":"s"},{"k":197,"v":-2.5,"t":"s"},{"k":198,"v":-3.7,"t":"n"},{"k":199,"v":-5.5,"t":"s"},{"k":200,"v":-6.3,"t":"s"}
],
"el":[{"g":"ap","k":200,"v":-6.3},{"g":"Vsx1","k":199,"v":-5.5},{"g":"CG4766","k":197,"v":-2.5},{"g":"mab-21","k":196,"v":-2.42},{"g":"CR44133","k":195,"v":-2.3},{"g":"Vsx2","k":193,"v":-1.56},{"g":"GATAe","k":192,"v":-1.33},{"g":"srp","k":189,"v":-1.06}],
"ff":[
{"g":"ap","s":"WT","v":1},{"g":"ap","s":"dsMrg15","v":1.02},{"g":"ap","s":"dsAsh1","v":0.01},
{"g":"Vsx1","s":"WT","v":1},{"g":"Vsx1","s":"dsMrg15","v":0.75},{"g":"Vsx1","s":"dsAsh1","v":0.01},
{"g":"CG4766","s":"WT","v":1},{"g":"CG4766","s":"dsMrg15","v":0.86},{"g":"CG4766","s":"dsAsh1","v":0.16},
{"g":"mab-21","s":"WT","v":1},{"g":"mab-21","s":"dsMrg15","v":0.79},{"g":"mab-21","s":"dsAsh1","v":0.17},
{"g":"CR44133","s":"WT","v":1},{"g":"CR44133","s":"dsMrg15","v":0.73},{"g":"CR44133","s":"dsAsh1","v":0.13},
{"g":"Vsx2","s":"WT","v":1},{"g":"Vsx2","s":"dsMrg15","v":0.57},{"g":"Vsx2","s":"dsAsh1","v":0.02},
{"g":"GATAe","s":"WT","v":1},{"g":"GATAe","s":"dsMrg15","v":0.27},{"g":"GATAe","s":"dsAsh1","v":0.1},
{"g":"srp","s":"WT","v":1},{"g":"srp","s":"dsMrg15","v":1.25},{"g":"srp","s":"dsAsh1","v":0.46}
],
"t1":[{"t":"a"},{"t":"WT"},{"t":"Ash1 KD"},{"t":"Mrg15 KD"},{"t":"H3K36me2 at Ash1 peaks"},{"t":"b"},{"t":"c"},{"t":"H3K36me2 levels at Ash1 peaks"},{"t":"Mrg15 peak:"},{"t":"Ash1 level:"},{"t":"n:"}],
"t2":[{"t":"d"},{"t":"Ash1 signal at 1st exon of top 200 genes"},{"t":"Super targets (26)"},{"t":"e"},{"t":"f"},{"t":"8 super target genes downregulated by dsAsh1"}]
},
"columns":5,
"bounds":"flush",
"align":"each",
"spacing":{"row":81,"column":1},
"resolve":{"scale":{"color":"independent"},"legend":{"color":"independent"}},
"concat":[
  {
  "width":68.5,"height":155.3,
  "resolve":{"scale":{"x":"independent","y":"independent"}},
  "layer":[
   {"data":{"name":"hw"},"mark":"rect","encoding":{
     "x":{"field":"c","type":"ordinal","axis":null,"scale":{"paddingInner":0,"paddingOuter":0}},
     "y":{"field":"r","type":"ordinal","axis":null,"scale":{"range":[20.3,155.3],"paddingInner":0,"paddingOuter":0}},
     "color":{"field":"v","type":"quantitative","scale":{"domain":[0,100],"range":["#ffffff","#d8221c"],"interpolate":"rgb","clamp":true},"legend":null}}},
   {"layer":[
     {"data":{"values":[{}]},"mark":{"type":"rect","filled":false,"color":"#444","strokeWidth":1},
      "encoding":{
       "x":{"datum":-5,"type":"quantitative","scale":{"domain":[-5,5],"nice":false,"zero":false},
            "axis":{"orient":"bottom","values":[-5,0,5],"labelExpr":"datum.value < 0 ? '−5 kb' : (datum.value > 0 ? '+5 kb' : '')","tickOpacity":{"condition":{"test":"datum.value == 0","value":1},"value":0},"domain":false,"title":null,"tickSize":3,"labelPadding":1,"labelFontSize":9.5,"labelOverlap":false}},
       "x2":{"datum":5},
       "y":{"datum":0,"type":"quantitative","scale":{"domain":[0,20],"range":[155.3,20.3],"nice":false,"zero":false},
            "axis":{"orient":"left","domain":false,"ticks":false,"labels":false,"title":["All Ash1 peaks","sorted by H3K36me2"],"titlePadding":5.5,"titleFontSize":10,"titleLineHeight":12.5}},
       "y2":{"datum":20}}},
     {"data":{"name":"t1"},"transform":[{"filter":"datum.t == 'a'"}],"mark":{"type":"text","fontSize":14,"fontWeight":"bold","align":"left","baseline":"alphabetic","color":"#000"},
      "encoding":{"x":{"datum":-9.03,"type":"quantitative"},"y":{"datum":25.57,"type":"quantitative"},"text":{"field":"t"}}},
     {"data":{"name":"t1"},"transform":[{"filter":"datum.t == 'WT'"}],"mark":{"type":"text","fontSize":10,"align":"center","baseline":"alphabetic","color":"#000"},
      "encoding":{"x":{"datum":0,"type":"quantitative"},"y":{"datum":20.64,"type":"quantitative"},"text":{"field":"t"}}},
     {"data":{"values":[{}]},"mark":{"type":"rule","color":"#000","strokeWidth":1},
      "encoding":{"x":{"datum":-5.34,"type":"quantitative"},"y":{"datum":19.15,"type":"quantitative"},"y2":{"datum":1.3}}},
     {"data":{"values":[{}]},"mark":{"type":"point","shape":"triangle-down","filled":true,"color":"#000","size":22,"opacity":1},
      "encoding":{"x":{"datum":-5.34,"type":"quantitative"},"y":{"datum":1.0,"type":"quantitative"}}}
   ]}
  ]
  },
  {
  "width":68.5,"height":155.3,
  "resolve":{"scale":{"x":"independent","y":"independent"}},
  "layer":[
   {"data":{"name":"ha"},"mark":"rect","encoding":{
     "x":{"field":"c","type":"ordinal","axis":null,"scale":{"paddingInner":0,"paddingOuter":0}},
     "y":{"field":"r","type":"ordinal","axis":null,"scale":{"range":[20.3,155.3],"paddingInner":0,"paddingOuter":0}},
     "color":{"field":"v","type":"quantitative","scale":{"domain":[0,100],"range":["#ffffff","#d8221c"],"interpolate":"rgb","clamp":true},"legend":null}}},
   {"layer":[
     {"data":{"values":[{}]},"mark":{"type":"rect","filled":false,"color":"#444","strokeWidth":1},
      "encoding":{
       "x":{"datum":-5,"type":"quantitative","scale":{"domain":[-5,5],"nice":false,"zero":false},"axis":null},
       "x2":{"datum":5},
       "y":{"datum":0,"type":"quantitative","scale":{"domain":[0,20],"range":[155.3,20.3],"nice":false,"zero":false},"axis":null},
       "y2":{"datum":20}}},
     {"data":{"name":"t1"},"transform":[{"filter":"datum.t == 'H3K36me2 at Ash1 peaks'"}],"mark":{"type":"text","fontSize":9.6,"align":"center","baseline":"alphabetic","color":"#000"},
      "encoding":{"x":{"datum":0.18,"type":"quantitative"},"y":{"datum":23.45,"type":"quantitative"},"text":{"field":"t"}}},
     {"data":{"name":"t1"},"transform":[{"filter":"datum.t == 'Ash1 KD'"}],"mark":{"type":"text","fontSize":10,"align":"center","baseline":"alphabetic","color":"#000"},
      "encoding":{"x":{"datum":0,"type":"quantitative"},"y":{"datum":20.64,"type":"quantitative"},"text":{"field":"t"}}},
     {"data":{"values":[{}]},"mark":{"type":"rule","color":"#000","strokeWidth":0.8},
      "encoding":{"x":{"datum":-12.71,"type":"quantitative"},"x2":{"datum":15.1},"y":{"datum":22.52,"type":"quantitative"}}}
   ]}
  ]
  },
  {
  "width":68.5,"height":155.3,
  "resolve":{"scale":{"x":"independent","y":"independent"}},
  "layer":[
   {"data":{"name":"hm"},"mark":"rect","encoding":{
     "x":{"field":"c","type":"ordinal","axis":null,"scale":{"paddingInner":0,"paddingOuter":0}},
     "y":{"field":"r","type":"ordinal","axis":null,"scale":{"range":[20.3,155.3],"paddingInner":0,"paddingOuter":0}},
     "color":{"field":"v","type":"quantitative","scale":{"domain":[0,100],"range":["#ffffff","#d8221c"],"interpolate":"rgb","clamp":true},
       "legend":{"orient":"none","legendX":67.5,"legendY":110,"direction":"vertical","title":"Color key (RP10M)","titleOrient":"left","titleFontSize":6,"titleFontWeight":"normal","titleColor":"#444","labelFontSize":6.5,"labelColor":"#444","gradientLength":37,"gradientThickness":6,"values":[20,60,100],"titlePadding":2,"labelOffset":2}}}},
   {"layer":[
     {"data":{"values":[{}]},"mark":{"type":"rect","filled":false,"color":"#444","strokeWidth":1},
      "encoding":{
       "x":{"datum":-5,"type":"quantitative","scale":{"domain":[-5,5],"nice":false,"zero":false},"axis":null},
       "x2":{"datum":5},
       "y":{"datum":0,"type":"quantitative","scale":{"domain":[0,20],"range":[155.3,20.3],"nice":false,"zero":false},"axis":null},
       "y2":{"datum":20}}},
     {"data":{"name":"t1"},"transform":[{"filter":"datum.t == 'Mrg15 KD'"}],"mark":{"type":"text","fontSize":10,"align":"center","baseline":"alphabetic","color":"#000"},
      "encoding":{"x":{"datum":0,"type":"quantitative"},"y":{"datum":20.64,"type":"quantitative"},"text":{"field":"t"}}}
   ]}
  ]
  },
  {
  "width":317.2,"height":136.7,
  "layer":[
   {"data":{"name":"bl"},"mark":{"type":"line","strokeWidth":2,"interpolate":"monotone"},
    "encoding":{
     "x":{"field":"x","type":"quantitative","scale":{"domain":[-5,5],"range":[84.9,194.9],"nice":false,"zero":false},
          "axis":{"values":[-5,0,5],"labelExpr":"datum.value > 0 ? '+' + datum.label : datum.label","title":["Position relative to","Ash1 peak center (kb)"],"titleLineHeight":13,"titlePadding":4,"labelOverlap":false}},
     "y":{"field":"y","type":"quantitative","scale":{"domain":[-15,20],"range":[136.7,17.7],"nice":false,"zero":false},
          "axis":{"values":[-15,-10,-5,0,5,10,15,20],"labels":false,"offset":-84.9,"title":["Normalized reads","density (RP10M)"],"titleLineHeight":10.5,"titlePadding":21,"tickSize":2}},
     "color":{"field":"g","type":"nominal","scale":{"domain":["WT","Ash1-KD","Mrg15-KD"],"range":["#4a72c4","#3aaa3a","#ef7b2a"]},
       "legend":{"orient":"none","legendX":201.2,"legendY":58,"title":null,"symbolType":"stroke","symbolStrokeWidth":2,"symbolSize":100,"labelFontSize":9.5,"rowPadding":1.5,"padding":0,"labelOffset":3}}}},
   {"data":{"name":"byl"},"mark":{"type":"text","align":"right","baseline":"middle","dx":-4,"fontSize":9.5,"color":"#000"},
    "encoding":{"x":{"datum":-5,"type":"quantitative"},"y":{"field":"y","type":"quantitative"},"text":{"field":"l"}}},
   {"data":{"name":"t1"},"transform":[{"filter":"datum.t == 'b'"}],"mark":{"type":"text","fontSize":14,"fontWeight":"bold","align":"left","baseline":"alphabetic","color":"#000"},
    "encoding":{"x":{"datum":-9.15,"type":"quantitative"},"y":{"datum":30.2,"type":"quantitative"},"text":{"field":"t"}}},
   {"data":{"name":"t1"},"transform":[{"filter":"datum.t == 'H3K36me2 at Ash1 peaks'"}],"mark":{"type":"text","fontSize":9.6,"align":"center","baseline":"alphabetic","color":"#000"},
    "encoding":{"x":{"datum":0.19,"type":"quantitative"},"y":{"datum":23.7,"type":"quantitative"},"text":{"field":"t"}}}
  ]
  },
  {
  "width":134,"height":173.3,
  "view":{"stroke":"#000","strokeWidth":1},
  "layer":[
   {"data":{"name":"cb"},"mark":{"type":"rule","color":"#000","strokeDash":[3,2],"strokeWidth":0.9},
    "encoding":{
     "x":{"field":"p","type":"quantitative","scale":{"domain":[0.26,6.74],"nice":false,"zero":false},"axis":null},
     "y":{"field":"lo","type":"quantitative","scale":{"domain":[-24.9,79.9],"nice":false,"zero":false},
          "axis":{"values":[-20,0,20,40,60,80],"labels":false,"title":["Normalized reads per","1M depth per 1 kb peak"],"titleLineHeight":10.5,"titlePadding":25}},
     "y2":{"field":"q1"}}},
   {"data":{"name":"cb"},"mark":{"type":"rule","color":"#000","strokeDash":[3,2],"strokeWidth":0.9},
    "encoding":{"x":{"field":"p","type":"quantitative"},"y":{"field":"q3","type":"quantitative"},"y2":{"field":"hi"}}},
   {"data":{"name":"cb"},"mark":{"type":"tick","orient":"horizontal","size":8,"thickness":1,"color":"#000","opacity":1},
    "encoding":{"x":{"field":"p","type":"quantitative"},"y":{"field":"lo","type":"quantitative"}}},
   {"data":{"name":"cb"},"mark":{"type":"tick","orient":"horizontal","size":8,"thickness":1,"color":"#000","opacity":1},
    "encoding":{"x":{"field":"p","type":"quantitative"},"y":{"field":"hi","type":"quantitative"}}},
   {"data":{"name":"cb"},"mark":{"type":"bar","width":16,"fill":"#ffffff","stroke":"#666","strokeWidth":1.2},
    "encoding":{"x":{"field":"p","type":"quantitative"},"y":{"field":"q1","type":"quantitative"},"y2":{"field":"q3"}}},
   {"data":{"name":"cb"},"mark":{"type":"tick","orient":"horizontal","size":16,"thickness":3,"color":"#000","opacity":1},
    "encoding":{"x":{"field":"p","type":"quantitative"},"y":{"field":"md","type":"quantitative"}}},
   {"data":{"name":"cp"},"mark":{"type":"rule","color":"#000","strokeWidth":1},
    "encoding":{"x":{"field":"a","type":"quantitative"},"x2":{"field":"b"},"y":{"datum":-25.9,"type":"quantitative"}}},
   {"data":{"name":"cb"},"mark":{"type":"tick","orient":"vertical","size":4,"thickness":1,"color":"#000","opacity":1},
    "encoding":{"x":{"field":"p","type":"quantitative"},"y":{"datum":-27.3,"type":"quantitative"}}},
   {"data":{"name":"cyl"},"mark":{"type":"text","align":"right","baseline":"middle","dx":-5,"fontSize":9.5,"color":"#000"},
    "encoding":{"x":{"datum":0.26,"type":"quantitative"},"y":{"field":"y","type":"quantitative"},"text":{"field":"l"}}},
   {"data":{"name":"t1"},"transform":[{"filter":"datum.t == 'Mrg15 peak:'"}],"mark":{"type":"text","align":"right","baseline":"middle","fontSize":9,"color":"#000"},
    "encoding":{"x":{"datum":0.647,"type":"quantitative"},"y":{"datum":-33.2,"type":"quantitative"},"text":{"field":"t"}}},
   {"data":{"name":"t1"},"transform":[{"filter":"datum.t == 'Ash1 level:'"}],"mark":{"type":"text","align":"right","baseline":"middle","fontSize":9,"color":"#000"},
    "encoding":{"x":{"datum":0.647,"type":"quantitative"},"y":{"datum":-38.6,"type":"quantitative"},"text":{"field":"t"}}},
   {"data":{"name":"t1"},"transform":[{"filter":"datum.t == 'n:'"}],"mark":{"type":"text","align":"right","baseline":"middle","fontSize":9,"color":"#000"},
    "encoding":{"x":{"datum":0.647,"type":"quantitative"},"y":{"datum":-44.3,"type":"quantitative"},"text":{"field":"t"}}},
   {"data":{"name":"cb"},"mark":{"type":"text","align":"center","baseline":"middle","fontSize":8.5,"color":"#000"},
    "encoding":{"x":{"field":"p","type":"quantitative"},"y":{"datum":-33.2,"type":"quantitative"},"text":{"field":"m"}}},
   {"data":{"name":"cl"},"mark":{"type":"text","align":"center","baseline":"middle","fontSize":8.5,"color":"#000"},
    "encoding":{"x":{"field":"p","type":"quantitative"},"y":{"datum":-38.6,"type":"quantitative"},"text":{"field":"l"}}},
   {"data":{"name":"cb"},"mark":{"type":"text","align":"center","baseline":"middle","fontSize":8.5,"color":"#000"},
    "encoding":{"x":{"field":"p","type":"quantitative"},"y":{"datum":-44.3,"type":"quantitative"},"text":{"field":"n"}}},
   {"data":{"name":"t1"},"transform":[{"filter":"datum.t == 'c'"}],"mark":{"type":"text","fontSize":14,"fontWeight":"bold","align":"left","baseline":"alphabetic","color":"#000"},
    "encoding":{"x":{"datum":-2.06,"type":"quantitative"},"y":{"datum":90.5,"type":"quantitative"},"text":{"field":"t"}}},
   {"data":{"name":"t1"},"transform":[{"filter":"datum.t == 'H3K36me2 levels at Ash1 peaks'"}],"mark":{"type":"text","align":"center","baseline":"alphabetic","fontSize":9.2,"color":"#000"},
    "encoding":{"x":{"datum":3.5,"type":"quantitative"},"y":{"datum":84.4,"type":"quantitative"},"text":{"field":"t"}}}
  ]
  },
  {
  "width":68.5,"height":145,
  "layer":[
   {"data":{"name":"dd"},"mark":{"type":"point","filled":false,"color":"#b22a24","size":18,"strokeWidth":1,"opacity":1},
    "encoding":{
     "x":{"field":"k","type":"quantitative","scale":{"domain":[1,200],"range":[5,148.4],"nice":false,"zero":false},"axis":{"values":[1,50,100,150,200],"labels":false,"title":"Ranked genes","titlePadding":16.5}},
     "y":{"field":"v","type":"quantitative","scale":{"domain":[0,8000],"range":[145,3.4],"nice":false},"axis":{"values":[0,1000,2000,3000,4000,5000,6000,7000,8000],"labels":false,"offset":-5,"title":null}}}},
   {"data":{"name":"dyl"},"mark":{"type":"text","align":"right","baseline":"middle","dx":-5,"fontSize":9.5,"color":"#000"},
    "encoding":{"x":{"datum":1,"type":"quantitative"},"y":{"field":"y","type":"quantitative"},"text":{"field":"l"}}},
   {"data":{"name":"rxl"},"mark":{"type":"text","align":"center","baseline":"top","dy":5.5,"fontSize":9.5,"color":"#000"},
    "encoding":{"x":{"field":"x","type":"quantitative"},"y":{"datum":0,"type":"quantitative"},"text":{"field":"l"}}},
   {"data":{"values":[{}]},"mark":{"type":"rule","color":"#888","strokeWidth":1},
    "encoding":{"x":{"datum":215.7,"type":"quantitative"},"y":{"datum":753,"type":"quantitative"},"y2":{"datum":7249}}},
   {"data":{"values":[{}]},"mark":{"type":"rule","color":"#888","strokeWidth":1},
    "encoding":{"x":{"datum":210.1,"type":"quantitative"},"x2":{"datum":215.7},"y":{"datum":7249,"type":"quantitative"}}},
   {"data":{"values":[{}]},"mark":{"type":"rule","color":"#888","strokeWidth":1},
    "encoding":{"x":{"datum":210.1,"type":"quantitative"},"x2":{"datum":215.7},"y":{"datum":753,"type":"quantitative"}}},
   {"data":{"name":"t2"},"transform":[{"filter":"datum.t == 'Super targets (26)'"}],"mark":{"type":"text","angle":270,"align":"center","baseline":"middle","fontSize":9.6,"color":"#000"},
    "encoding":{"x":{"datum":225.4,"type":"quantitative"},"y":{"datum":3763,"type":"quantitative"},"text":{"field":"t"}}},
   {"data":{"name":"t2"},"transform":[{"filter":"datum.t == 'd'"}],"mark":{"type":"text","fontSize":14,"fontWeight":"bold","align":"left","baseline":"alphabetic","color":"#000"},
    "encoding":{"x":{"datum":-44.5,"type":"quantitative"},"y":{"datum":9395,"type":"quantitative"},"text":{"field":"t"}}},
   {"data":{"name":"t2"},"transform":[{"filter":"datum.t == 'Ash1 signal at 1st exon of top 200 genes'"}],"mark":{"type":"text","fontSize":9.4,"align":"center","baseline":"alphabetic","color":"#000"},
    "encoding":{"x":{"datum":101.2,"type":"quantitative"},"y":{"datum":8661,"type":"quantitative"},"text":{"field":"t"}}}
  ]
  },
  {
  "width":68.5,"height":145.4,
  "layer":[
   {"data":{"name":"ee"},"transform":[{"filter":"datum.t == 'n'"}],"mark":{"type":"point","filled":false,"size":7,"strokeWidth":0.8,"opacity":1},
    "encoding":{
     "x":{"field":"k","type":"quantitative","scale":{"domain":[-6.8,208.5],"range":[166.5,327.9],"nice":false,"zero":false},"axis":{"values":[1,50,100,150,200],"labels":false,"title":"Ranked genes","titlePadding":15.5}},
     "y":{"field":"v","type":"quantitative","scale":{"domain":[-7.46,2.43],"reverse":true,"nice":false,"zero":false},"axis":{"values":[-6,-4,-2,0,2],"labels":false,"offset":-166.5,"title":["log2 (siAsh1 /","siCtrl), RPKM of RNA-seq"],"titleLineHeight":9.5,"titlePadding":19.8,"titleFontSize":9.5}},
     "color":{"field":"t","type":"nominal","scale":{"domain":["n","s"],"range":["#8a8a8a","#e0392b"]},
      "legend":{"orient":"none","legendX":234.5,"legendY":121.7,"title":null,"labelExpr":"datum.label == 'n' ? 'Ash1 non-super target' : 'Ash1 super target'","labelFontSize":7.5,"symbolSize":22,"symbolStrokeWidth":1,"rowPadding":1,"padding":2.5,"strokeColor":"#999","encode":{"legend":{"update":{"strokeDash":{"value":[3,2]}}}}}}}},
   {"data":{"name":"ee"},"transform":[{"filter":"datum.t == 's'"}],"mark":{"type":"point","filled":false,"size":26,"strokeWidth":1.2,"opacity":1},
    "encoding":{"x":{"field":"k","type":"quantitative"},"y":{"field":"v","type":"quantitative"},"color":{"field":"t","type":"nominal"}}},
   {"data":{"values":[{}]},"mark":{"type":"rect","filled":false,"color":"#000","strokeWidth":1},
    "encoding":{"x":{"datum":-6.8,"type":"quantitative"},"x2":{"datum":208.5},"y":{"datum":-7.46,"type":"quantitative"},"y2":{"datum":2.43}}},
   {"data":{"name":"eyl"},"mark":{"type":"text","align":"right","baseline":"middle","dx":-7,"fontSize":9.5,"color":"#000"},
    "encoding":{"x":{"datum":-6.8,"type":"quantitative"},"y":{"field":"y","type":"quantitative"},"text":{"field":"l"}}},
   {"data":{"name":"rxl"},"mark":{"type":"text","align":"center","baseline":"top","dy":5.5,"fontSize":9.5,"color":"#000"},
    "encoding":{"x":{"field":"x","type":"quantitative"},"y":{"datum":2.43,"type":"quantitative"},"text":{"field":"l"}}},
   {"data":{"name":"el"},"transform":[{"filter":"datum.g == 'CG4766'"}],"mark":{"type":"rule","color":"#555","strokeWidth":0.6},
    "encoding":{"x":{"field":"k","type":"quantitative"},"y":{"field":"v","type":"quantitative"},"x2":{"datum":185.5},"y2":{"datum":-3.06}}},
   {"data":{"name":"el"},"transform":[{"filter":"datum.g == 'mab-21'"}],"mark":{"type":"rule","color":"#555","strokeWidth":0.6},
    "encoding":{"x":{"field":"k","type":"quantitative"},"y":{"field":"v","type":"quantitative"},"x2":{"datum":185.5},"y2":{"datum":-2.65}}},
   {"data":{"name":"el"},"transform":[{"filter":"datum.g == 'CR44133'"}],"mark":{"type":"rule","color":"#555","strokeWidth":0.6},
    "encoding":{"x":{"field":"k","type":"quantitative"},"y":{"field":"v","type":"quantitative"},"x2":{"datum":186.2},"y2":{"datum":-2.24}}},
   {"data":{"name":"el"},"transform":[{"filter":"datum.g == 'ap' || datum.g == 'Vsx1'"}],"mark":{"type":"text","align":"right","baseline":"middle","dx":-5,"dy":-1,"fontSize":6.5,"color":"#000"},
    "encoding":{"x":{"field":"k","type":"quantitative"},"y":{"field":"v","type":"quantitative"},"text":{"field":"g"}}},
   {"data":{"name":"el"},"transform":[{"filter":"datum.g == 'CG4766'"}],"mark":{"type":"text","align":"right","baseline":"middle","dx":-10,"dy":-8.5,"fontSize":6.5,"color":"#000"},
    "encoding":{"x":{"field":"k","type":"quantitative"},"y":{"field":"v","type":"quantitative"},"text":{"field":"g"}}},
   {"data":{"name":"el"},"transform":[{"filter":"datum.g == 'mab-21'"}],"mark":{"type":"text","align":"right","baseline":"middle","dx":-9,"dy":-3.7,"fontSize":6.5,"color":"#000"},
    "encoding":{"x":{"field":"k","type":"quantitative"},"y":{"field":"v","type":"quantitative"},"text":{"field":"g"}}},
   {"data":{"name":"el"},"transform":[{"filter":"datum.g == 'CR44133'"}],"mark":{"type":"text","align":"right","baseline":"middle","dx":-7.5,"dy":0.8,"fontSize":6.5,"color":"#000"},
    "encoding":{"x":{"field":"k","type":"quantitative"},"y":{"field":"v","type":"quantitative"},"text":{"field":"g"}}},
   {"data":{"name":"el"},"transform":[{"filter":"datum.g == 'Vsx2'"}],"mark":{"type":"text","align":"right","baseline":"middle","dx":-6,"dy":-3.5,"fontSize":6.5,"color":"#000"},
    "encoding":{"x":{"field":"k","type":"quantitative"},"y":{"field":"v","type":"quantitative"},"text":{"field":"g"}}},
   {"data":{"name":"el"},"transform":[{"filter":"datum.g == 'GATAe'"}],"mark":{"type":"text","align":"right","baseline":"middle","dx":-10,"dy":0.5,"fontSize":7,"color":"#000"},
    "encoding":{"x":{"field":"k","type":"quantitative"},"y":{"field":"v","type":"quantitative"},"text":{"field":"g"}}},
   {"data":{"name":"el"},"transform":[{"filter":"datum.g == 'srp'"}],"mark":{"type":"text","align":"left","baseline":"middle","dx":4,"dy":1.5,"fontSize":6.5,"color":"#000"},
    "encoding":{"x":{"field":"k","type":"quantitative"},"y":{"field":"v","type":"quantitative"},"text":{"field":"g"}}},
   {"data":{"name":"t2"},"transform":[{"filter":"datum.t == 'e'"}],"mark":{"type":"text","fontSize":14,"fontWeight":"bold","align":"left","baseline":"alphabetic","color":"#000"},
    "encoding":{"x":{"datum":-63.6,"type":"quantitative"},"y":{"datum":-8.91,"type":"quantitative"},"text":{"field":"t"}}}
  ]
  },
  {
  "width":68.5,"height":109,
  "resolve":{"scale":{"x":"independent"}},
  "layer":[
   {"data":{"name":"ff"},"mark":{"type":"bar"},
    "encoding":{
     "x":{"field":"g","type":"nominal","sort":["ap","Vsx1","CG4766","mab-21","CR44133","Vsx2","GATAe","srp"],"scale":{"range":[313.7,498.7],"paddingInner":0.28,"paddingOuter":0.17},
          "axis":{"title":null,"labelAngle":-40,"ticks":false,"labelFontSize":9.5,"labelPadding":3,"domainColor":"#999","labelOverlap":false}},
     "xOffset":{"field":"s","type":"nominal","sort":["WT","dsMrg15","dsAsh1"],"scale":{"paddingInner":0.05}},
     "y":{"field":"v","type":"quantitative","scale":{"domain":[0,1.4],"range":[109,18.4],"nice":false},
          "axis":{"values":[0,0.2,0.4,0.6,0.8,1,1.2,1.4],"labels":false,"offset":-313.7,"title":"Relative expression","titleFontSize":10.5,"titlePadding":19.5}},
     "color":{"field":"s","type":"nominal","scale":{"domain":["WT","dsMrg15","dsAsh1"],"range":["#5592d6","#ec7a30","#a6a6a6"]},
      "legend":{"orient":"none","direction":"horizontal","legendX":322.7,"legendY":164,"title":null,"symbolType":"square","symbolSize":28,"labelFontSize":10,"labelFontStyle":"italic","columnPadding":8,"symbolStrokeWidth":0}}}},
   {"layer":[
    {"data":{"name":"fyl"},"mark":{"type":"text","align":"right","baseline":"middle","dx":-8,"fontSize":10,"color":"#000"},
     "encoding":{"x":{"datum":0,"type":"quantitative","scale":{"domain":[0,1],"range":[313.7,498.7],"nice":false,"zero":false},"axis":null},"y":{"field":"y","type":"quantitative"},"text":{"field":"l"}}},
    {"data":{"name":"t2"},"transform":[{"filter":"datum.t == 'f'"}],"mark":{"type":"text","fontSize":14,"fontWeight":"bold","align":"left","baseline":"alphabetic","color":"#000"},
     "encoding":{"x":{"datum":-0.212,"type":"quantitative"},"y":{"datum":2.014,"type":"quantitative"},"text":{"field":"t"}}},
    {"data":{"name":"t2"},"transform":[{"filter":"datum.t == '8 super target genes downregulated by dsAsh1'"}],"mark":{"type":"text","fontSize":10,"align":"center","baseline":"alphabetic","color":"#000"},
     "encoding":{"x":{"datum":0.524,"type":"quantitative"},"y":{"datum":1.504,"type":"quantitative"},"text":{"field":"t"}}}
   ]}
  ]
  }
]
}
